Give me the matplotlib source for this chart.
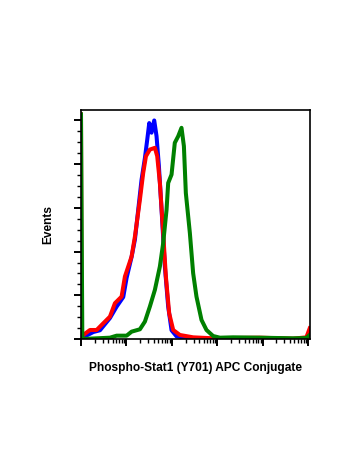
import numpy as np
import matplotlib
matplotlib.use('Agg')
import matplotlib.pyplot as plt
from matplotlib.ticker import LogLocator, MultipleLocator, NullFormatter

# fluorescence intensity (log axis) and event counts
blue_x = [1.12, 1.87, 2.62, 4.34, 6.08, 8.51, 10.1, 13.0, 15.4, 18.2, 21.5, 25.5, 28.7,
          31.8, 35.7, 40.9, 46.0, 51.8, 59.3, 70.1, 83.0, 98.4, 127, 210, 684, 1000]
blue_y = [2, 8, 10, 24, 37, 48, 70, 94, 114, 148, 182, 207, 228,
          247, 236, 250, 232, 198, 148, 83, 37, 10, 3, 1, 0, 0]

red_x = [1.0, 1.03, 1.12, 1.58, 2.21, 3.10, 4.34, 5.58, 7.83, 9.27, 13.0, 15.4, 19.8,
         23.4, 26.9, 32.8, 42.3, 47.6, 54.5, 64.4, 73.8, 87.3, 107, 150, 294, 809,
         8590, 46300, 91200, 108000]
red_y = [257, 5, 4.6, 10.3, 10.3, 18.0, 25.6, 40.9, 48.5, 71.5, 94.4, 117.4, 159.4,
         190.0, 209.1, 216.7, 218.7, 209.1, 178.5, 121.2, 71.5, 29.4, 10.3, 4.6, 1.9, 0.8,
         1.5, 0.4, 1.9, 12.2]

green_x = [1.0, 1.07, 4.34, 6.08, 10.1, 13.0, 19.8, 25.5, 32.8, 42.3, 54.5, 64.4, 76.4,
           83.0, 98.4, 116, 138, 163, 184, 203, 249, 294, 348, 449, 578, 809, 1140,
           2230, 8590, 46300, 91200, 108000]
green_y = [257, 0, 1.5, 3.8, 3.8, 8.4, 11.1, 19.9, 37.1, 56.2, 83.0, 109.7, 147.9,
           178.5, 188.1, 224.4, 232.0, 241.6, 220.6, 167.0, 121.2, 75.3, 48.5, 21.8, 10.3, 3.4, 1.5,
           1.9, 1.5, 0.8, 1.1, 4.6]

fig = plt.figure(figsize=(3.5, 4.67), dpi=100)
ax = fig.add_axes([0.2314, 0.2741, 0.6543, 0.4904])

ax.plot(blue_x, blue_y, color='#0000ff', lw=2.9)
ax.plot(red_x, red_y, color='#ff0000', lw=2.9)
ax.plot(green_x, green_y, color='#008000', lw=2.9)

ax.set_xscale('log')
ax.set_xlim(1, 10 ** 5.04)
ax.set_ylim(0, 262)

ax.xaxis.set_major_locator(LogLocator(base=10, numticks=10))
ax.xaxis.set_minor_locator(LogLocator(base=10, subs=np.arange(2, 10), numticks=20))
ax.xaxis.set_major_formatter(NullFormatter())
ax.xaxis.set_minor_formatter(NullFormatter())
ax.yaxis.set_major_locator(MultipleLocator(50))
ax.yaxis.set_minor_locator(MultipleLocator(12.5))
ax.yaxis.set_major_formatter(NullFormatter())

ax.tick_params(which='major', direction='out', length=5, width=1.4, top=False, right=False)
ax.tick_params(which='minor', direction='out', length=3, width=1.0, top=False, right=False)
for s in ax.spines.values():
    s.set_linewidth(1.2)

lab_font = dict(family='Liberation Sans', fontweight='bold', fontsize=8.6)
ax.set_xlabel('Phospho-Stat1 (Y701) APC Conjugate', labelpad=8, **lab_font)
ax.set_ylabel('Events', labelpad=11, **lab_font)

fig.savefig('out.png', dpi=100)
